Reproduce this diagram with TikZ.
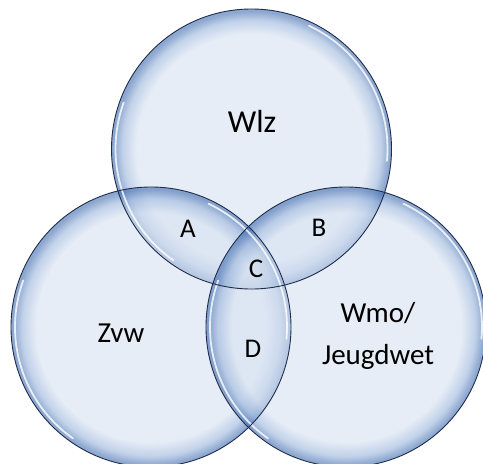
\documentclass[tikz,border=0pt]{standalone}
\usepackage{fontspec}
\setmainfont{Carlito}
\usetikzlibrary{calc}

% bubble colours
\definecolor{bfill}{RGB}{214,225,241}
\definecolor{bmid}{RGB}{150,178,218}
\definecolor{bedge}{RGB}{60,105,175}
\definecolor{bline}{RGB}{30,45,75}

\pgfdeclareradialshading{bubble}{\pgfpoint{0bp}{0bp}}{%
  color(0bp)=(bfill); color(20.5bp)=(bfill); color(23bp)=(bmid);
  color(24.6bp)=(bedge); color(25bp)=(bedge); color(50bp)=(bedge)}

\tikzset{
  bubble/.style={shading=bubble, fill opacity=0.58},
  rim/.style={draw=bline, line width=0.9pt},
  gloss/.style={draw=white, line width=1.8pt, draw opacity=0.8, line cap=round},
  lawlabel/.style={font=\fontsize{29}{42}\selectfont, text=black, align=center},
  zonelabel/.style={font=\fontsize{27}{30}\selectfont, text=black},
}

\begin{document}
\begin{tikzpicture}[x=1pt, y=-1pt]
  \useasboundingbox (0,0) rectangle (483,464);
  \fill[white] (0,0) rectangle (483,464);

  \def\R{140}
  \coordinate (ctop)   at (251.5,149);
  \coordinate (cleft)  at (151,327);
  \coordinate (cright) at (346,327);

  % the three translucent bubbles
  \foreach \c in {ctop,cleft,cright}
    \shade[bubble] (\c) circle (\R);

  % glossy highlights just inside the rims
  \foreach \c in {ctop,cleft,cright}{
    \draw[gloss] ($(\c)+(125:{\R-4})$) arc[start angle=125, end angle=200, radius={\R-4}];
    \draw[gloss] ($(\c)+(-65:{\R-4})$) arc[start angle=-65, end angle=5, radius={\R-4}];
  }

  % outlines
  \foreach \c in {ctop,cleft,cright}
    \draw[rim] (\c) circle (\R);

  % labels
  \node[lawlabel, font=\fontsize{32}{38}\selectfont] (wlz) at (252,121) {Wlz};
  \node[lawlabel] (zvw) at (121,333) {Zvw};
  \node[lawlabel] (wmo) at (378,336) {Wmo/\\Jeugdwet};
  \node[zonelabel] (za) at (188,229) {A};
  \node[zonelabel] (zb) at (319,228) {B};
  \node[zonelabel] (zc) at (256,269) {C};
  \node[zonelabel] (zd) at (253,349) {D};
\end{tikzpicture}
\end{document}
